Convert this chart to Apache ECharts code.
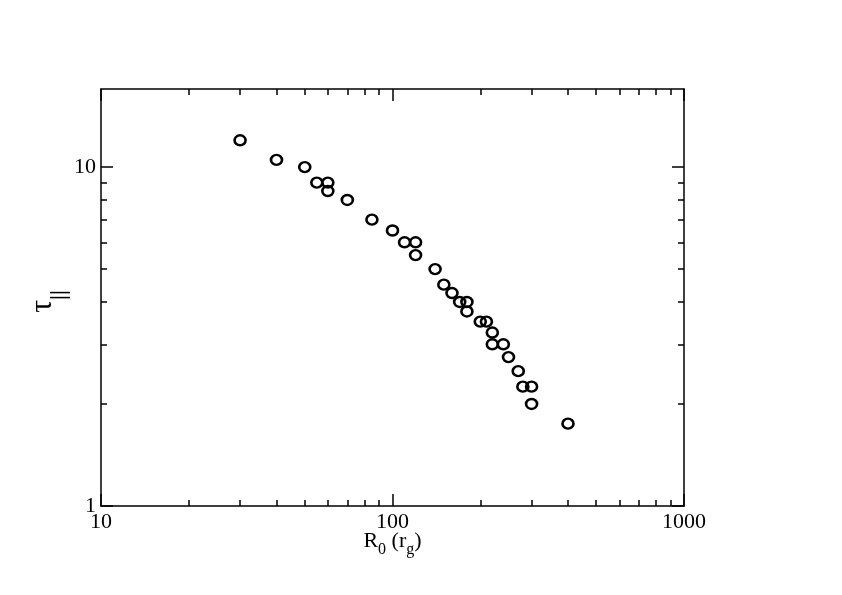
<!DOCTYPE html>
<html>
<head>
<meta charset="utf-8">
<script src="https://cdn.jsdelivr.net/npm/echarts@6/dist/echarts.min.js"></script>
<style>
  html, body { margin: 0; padding: 0; background: #fff; }
  #main { width: 842px; height: 595px; }
</style>
</head>
<body>
<div id="main"></div>
<script>
// R0 (rg) and tau_par
var radius = [30, 40, 50, 55, 60, 60, 70, 85, 100, 110, 120, 120, 140, 150, 160, 170,
  180, 180, 200, 210, 220, 220, 240, 250, 270, 280, 300, 300, 400];
var tau = [12, 10.5, 10, 9, 9, 8.5, 8, 7, 6.5, 6, 6, 5.5, 5, 4.5, 4.25, 4,
  4, 3.75, 3.5, 3.5, 3.25, 3, 3, 2.75, 2.5, 2.25, 2.25, 2, 1.75];

var xMajor = [10, 100, 1000];
var xMinor = [20, 30, 40, 50, 60, 70, 80, 90, 200, 300, 400, 500, 600, 700, 800, 900];
var yMajor = [1, 10];
var yMinor = [2, 3, 4, 5, 6, 7, 8, 9];

var font = 'Liberation Serif';
var points = radius.map(function (r, i) { return [r, tau[i]]; });

// one axis per side for major ticks (with line), one more for minor ticks
function xAx(pos, ticks, len, main) {
  return {
    type: 'log', logBase: 10, min: 10, max: 1000, position: pos,
    axisLine: { show: main, onZero: false, lineStyle: { color: '#000', width: 1.5 } },
    axisTick: { show: true, inside: true, length: len, customValues: ticks,
      lineStyle: { color: '#000', width: 1.5 } },
    axisLabel: { show: main && pos === 'bottom', customValues: xMajor, margin: 5,
      color: '#000', fontFamily: font, fontSize: 22,
      formatter: function (v) { return String(v); } },
    splitLine: { show: false },
    name: main && pos === 'bottom' ? '{n|R}{s|0}{n| (r}{s|g}{n|)}' : '',
    nameLocation: 'middle', nameGap: 24, nameMoveOverlap: false,
    nameTextStyle: {
      rich: {
        n: { fontFamily: font, fontSize: 22, lineHeight: 22, color: '#000' },
        s: { fontFamily: font, fontSize: 16, lineHeight: 5, padding: [17, 0, 0, 0], color: '#000' }
      }
    }
  };
}

function yAx(pos, ticks, len, main) {
  return {
    type: 'log', logBase: 10, min: 1, max: 17, position: pos,
    axisLine: { show: main, onZero: false, lineStyle: { color: '#000', width: 1.5 } },
    axisTick: { show: true, inside: true, length: len, customValues: ticks,
      lineStyle: { color: '#000', width: 1.5 } },
    axisLabel: { show: main && pos === 'left', customValues: yMajor, margin: 5,
      color: '#000', fontFamily: font, fontSize: 22,
      formatter: function (v) { return String(v); } },
    splitLine: { show: false },
    name: main && pos === 'left' ? '{t|τ}{s|||}' : '',
    nameLocation: 'middle', nameGap: 38, nameRotate: 90, nameMoveOverlap: false,
    nameTextStyle: {
      rich: {
        t: { fontFamily: font, fontSize: 32, lineHeight: 40, color: '#000' },
        s: { fontFamily: font, fontSize: 22, fontWeight: 'bold', lineHeight: 6,
          padding: [32, 8, 0, 0], color: '#000' }
      }
    }
  };
}

var chart = echarts.init(document.getElementById('main'));
chart.setOption({
  backgroundColor: '#fff',
  animation: false,
  grid: { left: 101, right: 158, top: 89, bottom: 89 },
  xAxis: [
    xAx('bottom', xMajor, 12, true),
    xAx('bottom', xMinor, 6, false),
    xAx('top', xMajor, 12, true),
    xAx('top', xMinor, 6, false)
  ],
  yAxis: [
    yAx('left', yMajor, 12, true),
    yAx('left', yMinor, 6, false),
    yAx('right', yMajor, 12, true),
    yAx('right', yMinor, 6, false)
  ],
  series: [{
    type: 'scatter',
    xAxisIndex: 0, yAxisIndex: 0,
    data: points,
    symbol: 'circle',
    symbolSize: [11, 10],
    itemStyle: { color: 'rgba(0,0,0,0)', borderColor: '#000', borderWidth: 2.5, opacity: 1 }
  }]
});
</script>
</body>
</html>
